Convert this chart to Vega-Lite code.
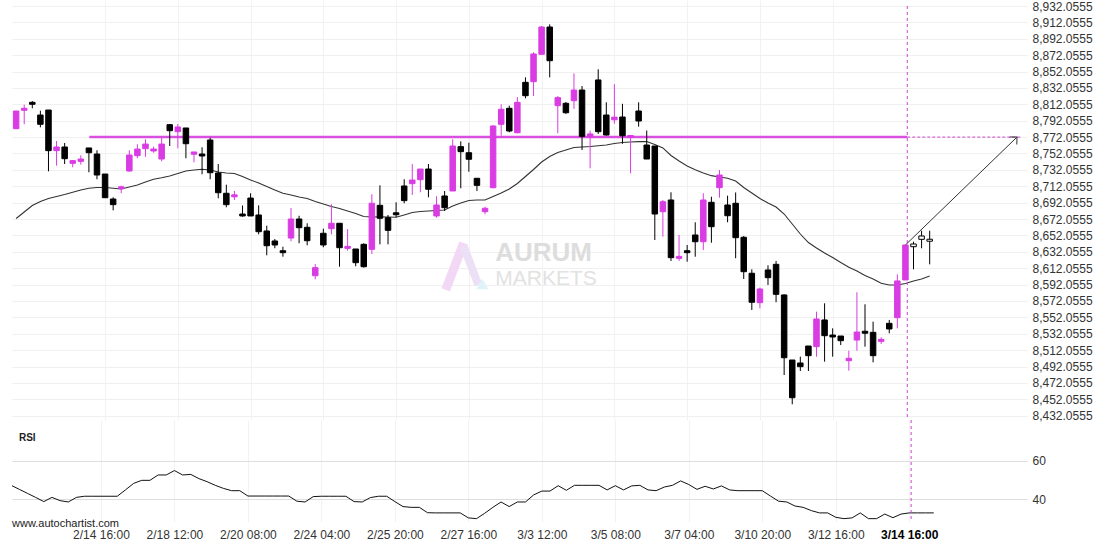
{
  "$schema": "https://vega.github.io/schema/vega-lite/v6.json",
  "padding": {"left": 12, "top": 0, "right": 0, "bottom": 0},
  "spacing": 0,
  "bounds": "flush",
  "background": "white",
  "config": {
    "view": {"stroke": null},
    "axis": {"domain": false, "ticks": false, "labelFont": "Liberation Sans", "labelFontSize": 12, "labelColor": "#333333"}
  },
  "datasets": {
    "candles": [
      {"i":0,"o":8782.3,"h":8803.9,"l":8782.3,"c":8803.9,"dir":"up"},
      {"i":1,"o":8804.8,"h":8811.6,"l":8787.7,"c":8807.2,"dir":"up"},
      {"i":2,"o":8814.5,"h":8816.1,"l":8807.2,"c":8812.1,"dir":"down"},
      {"i":3,"o":8799.0,"h":8804.3,"l":8784.0,"c":8787.7,"dir":"down"},
      {"i":4,"o":8805.1,"h":8805.1,"l":8730.3,"c":8755.5,"dir":"down"},
      {"i":5,"o":8755.5,"h":8767.3,"l":8737.2,"c":8760.0,"dir":"up"},
      {"i":6,"o":8760.0,"h":8764.9,"l":8739.2,"c":8745.7,"dir":"down"},
      {"i":7,"o":8740.1,"h":8744.1,"l":8735.2,"c":8743.3,"dir":"up"},
      {"i":8,"o":8742.5,"h":8749.9,"l":8738.4,"c":8745.3,"dir":"up"},
      {"i":9,"o":8758.8,"h":8758.8,"l":8729.1,"c":8753.0,"dir":"down"},
      {"i":10,"o":8751.4,"h":8756.0,"l":8720.6,"c":8725.8,"dir":"down"},
      {"i":11,"o":8727.0,"h":8727.0,"l":8698.1,"c":8698.1,"dir":"down"},
      {"i":12,"o":8696.5,"h":8698.6,"l":8682.7,"c":8689.6,"dir":"down"},
      {"i":13,"o":8709.0,"h":8712.8,"l":8703.5,"c":8711.4,"dir":"up"},
      {"i":14,"o":8730.7,"h":8756.0,"l":8729.8,"c":8750.2,"dir":"up"},
      {"i":15,"o":8749.4,"h":8763.3,"l":8746.2,"c":8757.5,"dir":"up"},
      {"i":16,"o":8757.9,"h":8769.4,"l":8748.1,"c":8763.6,"dir":"up"},
      {"i":17,"o":8755.1,"h":8760.4,"l":8753.0,"c":8757.5,"dir":"up"},
      {"i":18,"o":8745.3,"h":8772.6,"l":8742.5,"c":8763.6,"dir":"up"},
      {"i":19,"o":8787.2,"h":8788.1,"l":8761.2,"c":8779.9,"dir":"down"},
      {"i":20,"o":8778.7,"h":8788.1,"l":8758.4,"c":8784.4,"dir":"up"},
      {"i":21,"o":8783.2,"h":8783.2,"l":8746.2,"c":8764.0,"dir":"down"},
      {"i":22,"o":8751.1,"h":8753.9,"l":8741.3,"c":8753.9,"dir":"up"},
      {"i":23,"o":8751.4,"h":8759.6,"l":8726.7,"c":8749.0,"dir":"down"},
      {"i":24,"o":8768.5,"h":8771.3,"l":8720.6,"c":8728.6,"dir":"down"},
      {"i":25,"o":8728.3,"h":8739.2,"l":8697.4,"c":8704.2,"dir":"down"},
      {"i":26,"o":8703.5,"h":8714.0,"l":8686.4,"c":8689.6,"dir":"down"},
      {"i":27,"o":8699.2,"h":8706.3,"l":8695.3,"c":8701.6,"dir":"up"},
      {"i":28,"o":8678.2,"h":8688.6,"l":8675.0,"c":8675.8,"dir":"down"},
      {"i":29,"o":8697.7,"h":8703.5,"l":8675.8,"c":8675.8,"dir":"down"},
      {"i":30,"o":8677.0,"h":8688.8,"l":8653.4,"c":8656.6,"dir":"down"},
      {"i":31,"o":8657.5,"h":8663.9,"l":8627.8,"c":8639.5,"dir":"down"},
      {"i":32,"o":8645.3,"h":8647.7,"l":8636.4,"c":8640.4,"dir":"down"},
      {"i":33,"o":8633.4,"h":8638.3,"l":8626.1,"c":8631.0,"dir":"down"},
      {"i":34,"o":8648.9,"h":8685.5,"l":8644.9,"c":8672.1,"dir":"up"},
      {"i":35,"o":8672.1,"h":8676.1,"l":8642.5,"c":8661.5,"dir":"down"},
      {"i":36,"o":8662.0,"h":8666.9,"l":8640.0,"c":8645.6,"dir":"down"},
      {"i":37,"o":8602.9,"h":8617.2,"l":8598.5,"c":8612.7,"dir":"up"},
      {"i":38,"o":8654.7,"h":8660.3,"l":8637.6,"c":8640.4,"dir":"down"},
      {"i":39,"o":8660.3,"h":8690.1,"l":8653.4,"c":8666.9,"dir":"up"},
      {"i":40,"o":8666.9,"h":8666.9,"l":8613.9,"c":8637.1,"dir":"down"},
      {"i":41,"o":8636.3,"h":8659.9,"l":8633.4,"c":8638.7,"dir":"up"},
      {"i":42,"o":8635.5,"h":8635.5,"l":8614.4,"c":8618.8,"dir":"down"},
      {"i":43,"o":8641.2,"h":8642.5,"l":8612.7,"c":8613.9,"dir":"down"},
      {"i":44,"o":8635.1,"h":8702.3,"l":8629.4,"c":8691.3,"dir":"up"},
      {"i":45,"o":8688.8,"h":8713.2,"l":8641.2,"c":8673.0,"dir":"down"},
      {"i":46,"o":8673.7,"h":8677.0,"l":8641.2,"c":8658.3,"dir":"down"},
      {"i":47,"o":8679.7,"h":8692.5,"l":8674.2,"c":8677.3,"dir":"down"},
      {"i":48,"o":8712.4,"h":8720.6,"l":8691.3,"c":8694.5,"dir":"down"},
      {"i":49,"o":8715.2,"h":8739.2,"l":8701.4,"c":8719.7,"dir":"up"},
      {"i":50,"o":8720.1,"h":8733.1,"l":8704.7,"c":8733.1,"dir":"up"},
      {"i":51,"o":8733.1,"h":8739.2,"l":8698.6,"c":8708.4,"dir":"down"},
      {"i":52,"o":8675.8,"h":8699.8,"l":8673.7,"c":8689.2,"dir":"up"},
      {"i":53,"o":8700.2,"h":8706.3,"l":8681.9,"c":8685.9,"dir":"down"},
      {"i":54,"o":8706.3,"h":8769.4,"l":8706.3,"c":8761.2,"dir":"up"},
      {"i":55,"o":8760.4,"h":8766.9,"l":8709.6,"c":8754.3,"dir":"down"},
      {"i":56,"o":8753.0,"h":8765.2,"l":8729.8,"c":8745.0,"dir":"down"},
      {"i":57,"o":8721.8,"h":8721.8,"l":8706.3,"c":8713.2,"dir":"down"},
      {"i":58,"o":8681.0,"h":8687.1,"l":8677.9,"c":8685.2,"dir":"up"},
      {"i":59,"o":8710.3,"h":8786.8,"l":8709.6,"c":8785.6,"dir":"up"},
      {"i":60,"o":8787.7,"h":8812.1,"l":8773.8,"c":8806.0,"dir":"up"},
      {"i":61,"o":8807.2,"h":8810.4,"l":8777.9,"c":8779.5,"dir":"down"},
      {"i":62,"o":8777.4,"h":8821.0,"l":8776.7,"c":8814.5,"dir":"up"},
      {"i":63,"o":8838.9,"h":8845.0,"l":8819.4,"c":8822.6,"dir":"down"},
      {"i":64,"o":8839.7,"h":8875.6,"l":8822.2,"c":8873.5,"dir":"up"},
      {"i":65,"o":8873.1,"h":8907.7,"l":8873.1,"c":8906.4,"dir":"up"},
      {"i":66,"o":8906.4,"h":8909.7,"l":8845.0,"c":8865.3,"dir":"down"},
      {"i":67,"o":8810.4,"h":8822.2,"l":8776.7,"c":8820.2,"dir":"up"},
      {"i":68,"o":8813.3,"h":8814.9,"l":8800.3,"c":8801.8,"dir":"down"},
      {"i":69,"o":8816.5,"h":8849.9,"l":8806.4,"c":8829.5,"dir":"up"},
      {"i":70,"o":8829.5,"h":8834.4,"l":8756.3,"c":8773.0,"dir":"down"},
      {"i":71,"o":8772.6,"h":8779.9,"l":8734.0,"c":8775.9,"dir":"up"},
      {"i":72,"o":8841.8,"h":8854.8,"l":8775.9,"c":8778.7,"dir":"down"},
      {"i":73,"o":8799.0,"h":8814.5,"l":8774.0,"c":8774.6,"dir":"down"},
      {"i":74,"o":8793.2,"h":8836.6,"l":8788.3,"c":8796.4,"dir":"up"},
      {"i":75,"o":8796.6,"h":8812.7,"l":8763.9,"c":8773.7,"dir":"down"},
      {"i":76,"o":8771.6,"h":8774.0,"l":8727.9,"c":8774.0,"dir":"up"},
      {"i":77,"o":8803.9,"h":8814.5,"l":8784.8,"c":8791.7,"dir":"down"},
      {"i":78,"o":8762.4,"h":8780.1,"l":8745.3,"c":8745.3,"dir":"down"},
      {"i":79,"o":8761.2,"h":8761.2,"l":8646.5,"c":8678.2,"dir":"down"},
      {"i":80,"o":8681.0,"h":8695.3,"l":8650.5,"c":8693.2,"dir":"up"},
      {"i":81,"o":8695.3,"h":8704.7,"l":8620.9,"c":8624.9,"dir":"down"},
      {"i":82,"o":8624.1,"h":8652.6,"l":8620.9,"c":8626.5,"dir":"up"},
      {"i":83,"o":8633.4,"h":8640.4,"l":8620.0,"c":8631.0,"dir":"down"},
      {"i":84,"o":8652.6,"h":8668.1,"l":8626.1,"c":8644.4,"dir":"down"},
      {"i":85,"o":8644.4,"h":8703.5,"l":8634.3,"c":8695.3,"dir":"up"},
      {"i":86,"o":8692.5,"h":8699.3,"l":8643.2,"c":8662.7,"dir":"down"},
      {"i":87,"o":8710.3,"h":8731.9,"l":8698.1,"c":8725.8,"dir":"up"},
      {"i":88,"o":8689.2,"h":8700.6,"l":8668.1,"c":8676.1,"dir":"down"},
      {"i":89,"o":8691.3,"h":8704.5,"l":8624.2,"c":8649.3,"dir":"down"},
      {"i":90,"o":8649.8,"h":8651.4,"l":8598.9,"c":8607.8,"dir":"down"},
      {"i":91,"o":8605.9,"h":8610.7,"l":8561.1,"c":8570.5,"dir":"down"},
      {"i":92,"o":8570.0,"h":8588.3,"l":8563.1,"c":8586.7,"dir":"up"},
      {"i":93,"o":8609.9,"h":8615.6,"l":8591.6,"c":8600.5,"dir":"down"},
      {"i":94,"o":8616.8,"h":8620.9,"l":8570.5,"c":8580.2,"dir":"down"},
      {"i":95,"o":8579.4,"h":8580.2,"l":8481.7,"c":8502.8,"dir":"down"},
      {"i":96,"o":8500.0,"h":8500.0,"l":8446.0,"c":8454.0,"dir":"down"},
      {"i":97,"o":8496.4,"h":8504.1,"l":8486.6,"c":8491.9,"dir":"down"},
      {"i":98,"o":8517.1,"h":8517.1,"l":8486.6,"c":8505.3,"dir":"down"},
      {"i":99,"o":8516.3,"h":8559.0,"l":8504.1,"c":8550.1,"dir":"up"},
      {"i":100,"o":8548.9,"h":8569.2,"l":8498.0,"c":8529.7,"dir":"down"},
      {"i":101,"o":8530.5,"h":8538.7,"l":8504.1,"c":8528.1,"dir":"down"},
      {"i":102,"o":8529.3,"h":8529.3,"l":8518.3,"c":8523.6,"dir":"down"},
      {"i":103,"o":8499.2,"h":8511.4,"l":8487.0,"c":8502.1,"dir":"up"},
      {"i":104,"o":8524.4,"h":8582.7,"l":8511.4,"c":8534.2,"dir":"up"},
      {"i":105,"o":8535.1,"h":8568.0,"l":8516.3,"c":8532.7,"dir":"down"},
      {"i":106,"o":8533.8,"h":8546.8,"l":8497.2,"c":8505.3,"dir":"down"},
      {"i":107,"o":8522.8,"h":8527.7,"l":8519.6,"c":8525.2,"dir":"up"},
      {"i":108,"o":8544.8,"h":8548.9,"l":8532.6,"c":8537.9,"dir":"down"},
      {"i":109,"o":8551.7,"h":8604.6,"l":8538.7,"c":8596.5,"dir":"up"},
      {"i":110,"o":8597.7,"h":8640.4,"l":8597.7,"c":8640.4,"dir":"up"},
      {"i":111,"o":8638.3,"h":8644.4,"l":8610.7,"c":8641.6,"dir":"pending"},
      {"i":112,"o":8647.3,"h":8657.8,"l":8636.4,"c":8651.4,"dir":"pending"},
      {"i":113,"o":8645.0,"h":8657.8,"l":8616.8,"c":8647.4,"dir":"pending"}
    ],
    "ma": [
      {"i":0,"v":8672.7},{"i":1,"v":8680.7},{"i":2,"v":8688.6},{"i":3,"v":8693.5},{"i":4,"v":8697.1},
      {"i":5,"v":8699.6},{"i":6,"v":8702.0},{"i":7,"v":8704.7},{"i":8,"v":8707.5},{"i":9,"v":8709.6},
      {"i":10,"v":8710.6},{"i":11,"v":8710.6},{"i":12,"v":8709.6},{"i":13,"v":8708.7},{"i":14,"v":8711.2},
      {"i":15,"v":8713.6},{"i":16,"v":8717.3},{"i":17,"v":8720.6},{"i":18,"v":8722.4},{"i":19,"v":8724.6},
      {"i":20,"v":8727.6},{"i":21,"v":8730.7},{"i":22,"v":8731.9},{"i":23,"v":8732.8},{"i":24,"v":8731.9},
      {"i":25,"v":8729.5},{"i":26,"v":8728.3},{"i":27,"v":8727.6},{"i":28,"v":8724.0},{"i":29,"v":8719.7},
      {"i":30,"v":8716.1},{"i":31,"v":8711.8},{"i":32,"v":8707.5},{"i":33,"v":8703.5},{"i":34,"v":8701.4},
      {"i":35,"v":8699.0},{"i":36,"v":8697.1},{"i":37,"v":8693.5},{"i":38,"v":8690.4},{"i":39,"v":8687.4},
      {"i":40,"v":8684.9},{"i":41,"v":8681.9},{"i":42,"v":8678.8},{"i":43,"v":8675.2},{"i":44,"v":8674.6},
      {"i":45,"v":8674.9},{"i":46,"v":8674.6},{"i":47,"v":8674.2},{"i":48,"v":8677.0},{"i":49,"v":8680.0},
      {"i":50,"v":8681.3},{"i":51,"v":8681.9},{"i":52,"v":8682.5},{"i":53,"v":8683.1},{"i":54,"v":8688.0},
      {"i":55,"v":8691.6},{"i":56,"v":8694.7},{"i":57,"v":8695.3},{"i":58,"v":8695.3},{"i":59,"v":8699.6},
      {"i":60,"v":8703.8},{"i":61,"v":8708.7},{"i":62,"v":8715.4},{"i":63,"v":8724.0},{"i":64,"v":8732.5},
      {"i":65,"v":8741.7},{"i":66,"v":8748.4},{"i":67,"v":8753.3},{"i":68,"v":8756.3},{"i":69,"v":8759.4},
      {"i":70,"v":8760.0},{"i":71,"v":8760.6},{"i":72,"v":8761.5},{"i":73,"v":8762.4},{"i":74,"v":8764.3},
      {"i":75,"v":8765.5},{"i":76,"v":8766.1},{"i":77,"v":8766.5},{"i":78,"v":8766.7},{"i":79,"v":8763.0},
      {"i":80,"v":8758.8},{"i":81,"v":8749.6},{"i":82,"v":8742.9},{"i":83,"v":8736.8},{"i":84,"v":8732.3},
      {"i":85,"v":8728.3},{"i":86,"v":8725.0},{"i":87,"v":8723.4},{"i":88,"v":8721.8},{"i":89,"v":8718.5},
      {"i":90,"v":8710.6},{"i":91,"v":8703.8},{"i":92,"v":8697.1},{"i":93,"v":8691.6},{"i":94,"v":8686.8},
      {"i":95,"v":8678.2},{"i":96,"v":8666.0},{"i":97,"v":8653.8},{"i":98,"v":8643.4},{"i":99,"v":8636.7},
      {"i":100,"v":8630.6},{"i":101,"v":8625.1},{"i":102,"v":8619.0},{"i":103,"v":8613.2},{"i":104,"v":8608.7},
      {"i":105,"v":8603.2},{"i":106,"v":8598.9},{"i":107,"v":8593.6},{"i":108,"v":8591.6},{"i":109,"v":8591.6},
      {"i":110,"v":8593.4},{"i":111,"v":8596.5},{"i":112,"v":8598.9},{"i":113,"v":8602.6}
    ],
    "rsi": [
      {"i":0,"v":47.3},{"i":1,"v":45.2},{"i":2,"v":43.1},{"i":3,"v":41.0},{"i":4,"v":38.8},
      {"i":5,"v":41.0},{"i":6,"v":39.3},{"i":7,"v":38.6},{"i":8,"v":41.0},{"i":9,"v":41.6},
      {"i":10,"v":41.6},{"i":11,"v":41.6},{"i":12,"v":41.6},{"i":13,"v":41.6},{"i":14,"v":44.9},
      {"i":15,"v":48.3},{"i":16,"v":49.9},{"i":17,"v":49.9},{"i":18,"v":52.7},{"i":19,"v":52.7},
      {"i":20,"v":55.0},{"i":21,"v":52.7},{"i":22,"v":53.0},{"i":23,"v":50.8},{"i":24,"v":49.2},
      {"i":25,"v":47.3},{"i":26,"v":45.7},{"i":27,"v":44.5},{"i":28,"v":44.5},{"i":29,"v":41.7},
      {"i":30,"v":41.7},{"i":31,"v":41.7},{"i":32,"v":41.7},{"i":33,"v":41.7},{"i":34,"v":41.7},
      {"i":35,"v":39.0},{"i":36,"v":38.6},{"i":37,"v":41.4},{"i":38,"v":41.6},{"i":39,"v":41.6},
      {"i":40,"v":41.6},{"i":41,"v":41.6},{"i":42,"v":38.8},{"i":43,"v":38.6},{"i":44,"v":40.9},
      {"i":45,"v":41.6},{"i":46,"v":41.6},{"i":47,"v":38.8},{"i":48,"v":36.2},{"i":49,"v":35.8},
      {"i":50,"v":35.8},{"i":51,"v":33.0},{"i":52,"v":32.9},{"i":53,"v":32.9},{"i":54,"v":32.9},
      {"i":55,"v":32.9},{"i":56,"v":30.3},{"i":57,"v":29.9},{"i":58,"v":32.7},{"i":59,"v":35.8},
      {"i":60,"v":38.6},{"i":61,"v":36.2},{"i":62,"v":38.6},{"i":63,"v":38.6},{"i":64,"v":42.3},
      {"i":65,"v":44.3},{"i":66,"v":44.3},{"i":67,"v":47.1},{"i":68,"v":44.7},{"i":69,"v":47.3},
      {"i":70,"v":47.3},{"i":71,"v":47.3},{"i":72,"v":47.3},{"i":73,"v":44.9},{"i":74,"v":47.1},
      {"i":75,"v":44.9},{"i":76,"v":47.0},{"i":77,"v":47.3},{"i":78,"v":44.9},{"i":79,"v":44.5},
      {"i":80,"v":46.4},{"i":81,"v":47.3},{"i":82,"v":49.6},{"i":83,"v":47.7},{"i":84,"v":45.2},
      {"i":85,"v":46.8},{"i":86,"v":45.4},{"i":87,"v":47.0},{"i":88,"v":44.9},{"i":89,"v":44.5},
      {"i":90,"v":44.5},{"i":91,"v":44.5},{"i":92,"v":44.5},{"i":93,"v":41.7},{"i":94,"v":39.0},
      {"i":95,"v":38.6},{"i":96,"v":36.5},{"i":97,"v":35.8},{"i":98,"v":34.1},{"i":99,"v":32.9},
      {"i":100,"v":32.9},{"i":101,"v":30.6},{"i":102,"v":29.9},{"i":103,"v":30.3},{"i":104,"v":32.9},
      {"i":105,"v":29.9},{"i":106,"v":29.9},{"i":107,"v":32.3},{"i":108,"v":30.4},{"i":109,"v":32.3},
      {"i":110,"v":32.9},{"i":111,"v":32.9},{"i":112,"v":32.9},{"i":113,"v":32.9}
    ],
    "level": [{"i":9.05,"i_end":110.23,"i_proj":124.42,"p":8772.0555}],
    "arrow": [{"i":110,"p":8640.4},{"i":123.8,"p":8772.06}],
    "now": [{"i":110.23,"top":8932.06,"bottom":8426.81}],
    "logo_a": [{"i":53.14,"p":8585.5},{"i":55.34,"p":8642.8}],
    "logo_b": [{"i":55.34,"p":8639.2},{"i":57.18,"p":8591.6}],
    "logo_tri": [{"i":57.67,"p":8592.8}],
    "brand": [{"t":"AURUM","i":59.26,"p":8620.9}],
    "brand2": [{"t":"MARKETS","i":59.26,"p":8591.6}],
    "rsilabel": [{"t":"RSI","i":0.96,"v":72.2}],
    "credit": [{"t":"www.autochartist.com","i":0.11,"v":25.5}]
  },
  "vconcat": [
    {
      "width": 1015,
      "height": 420,
      "layer": [
        {
          "data": {"name": "ma"},
          "mark": {"type": "line", "color": "#333333", "strokeWidth": 1.1, "clip": true},
          "encoding": {
            "x": {"field": "i", "type": "quantitative", "scale": {"domain": [0.107, 124.42], "nice": false, "zero": false},
                  "axis": {"values": [11, 20, 29, 38, 47, 56, 65, 74, 83, 92, 101], "tickCount": 40, "labels": false, "grid": true, "gridColor": "#f2f2f2", "title": null}},
            "y": {"field": "v", "type": "quantitative", "scale": {"domain": [8426.81, 8939.38], "nice": false, "zero": false},
                  "axis": {"orient": "right", "values": [8432.0555, 8452.0555, 8472.0555, 8492.0555, 8512.0555, 8532.0555, 8552.0555, 8572.0555, 8592.0555, 8612.0555, 8632.0555, 8652.0555, 8672.0555, 8692.0555, 8712.0555, 8732.0555, 8752.0555, 8772.0555, 8792.0555, 8812.0555, 8832.0555, 8852.0555, 8872.0555, 8892.0555, 8912.0555, 8932.0555],
                           "tickCount": 40, "format": ",.4f", "grid": true, "gridColor": "#f0f0f0", "labelPadding": 5, "labelOverlap": false, "title": null}}
          }
        },
        {
          "data": {"name": "logo_a"},
          "mark": {"type": "line", "strokeWidth": 9, "strokeCap": "butt", "color": "#f3d8f5", "clip": true},
          "encoding": {
            "x": {"field": "i", "type": "quantitative", "scale": {"domain": [0.107, 124.42], "nice": false, "zero": false}},
            "y": {"field": "p", "type": "quantitative", "scale": {"domain": [8426.81, 8939.38], "nice": false, "zero": false}}
          }
        },
        {
          "data": {"name": "logo_b"},
          "mark": {"type": "line", "strokeWidth": 8, "strokeCap": "butt", "color": "#ebe0f6", "clip": true},
          "encoding": {
            "x": {"field": "i", "type": "quantitative", "scale": {"domain": [0.107, 124.42], "nice": false, "zero": false}},
            "y": {"field": "p", "type": "quantitative", "scale": {"domain": [8426.81, 8939.38], "nice": false, "zero": false}}
          }
        },
        {
          "data": {"name": "logo_tri"},
          "mark": {"type": "point", "shape": "triangle-up", "filled": true, "size": 150, "color": "#dff3f8", "opacity": 1},
          "encoding": {
            "x": {"field": "i", "type": "quantitative", "scale": {"domain": [0.107, 124.42], "nice": false, "zero": false}},
            "y": {"field": "p", "type": "quantitative", "scale": {"domain": [8426.81, 8939.38], "nice": false, "zero": false}}
          }
        },
        {
          "data": {"name": "brand"},
          "mark": {"type": "text", "align": "left", "baseline": "alphabetic", "font": "Liberation Sans", "fontSize": 26, "fontWeight": "bold", "color": "#dddddd"},
          "encoding": {
            "x": {"field": "i", "type": "quantitative", "scale": {"domain": [0.107, 124.42], "nice": false, "zero": false}},
            "y": {"field": "p", "type": "quantitative", "scale": {"domain": [8426.81, 8939.38], "nice": false, "zero": false}},
            "text": {"field": "t"}
          }
        },
        {
          "data": {"name": "brand2"},
          "mark": {"type": "text", "align": "left", "baseline": "alphabetic", "font": "Liberation Sans", "fontSize": 21, "fontWeight": "normal", "color": "#e2e2e2"},
          "encoding": {
            "x": {"field": "i", "type": "quantitative", "scale": {"domain": [0.107, 124.42], "nice": false, "zero": false}},
            "y": {"field": "p", "type": "quantitative", "scale": {"domain": [8426.81, 8939.38], "nice": false, "zero": false}},
            "text": {"field": "t"}
          }
        },
        {
          "data": {"name": "level"},
          "mark": {"type": "rule", "color": "#d94fe0", "strokeWidth": 2.5, "clip": true},
          "encoding": {
            "x": {"field": "i", "type": "quantitative", "scale": {"domain": [0.107, 124.42], "nice": false, "zero": false}},
            "x2": {"field": "i_end"},
            "y": {"field": "p", "type": "quantitative", "scale": {"domain": [8426.81, 8939.38], "nice": false, "zero": false}}
          }
        },
        {
          "data": {"name": "level"},
          "mark": {"type": "rule", "color": "#cc44cc", "strokeWidth": 1, "strokeDash": [3, 2], "clip": true},
          "encoding": {
            "x": {"field": "i_end", "type": "quantitative", "scale": {"domain": [0.107, 124.42], "nice": false, "zero": false}},
            "x2": {"field": "i_proj"},
            "y": {"field": "p", "type": "quantitative", "scale": {"domain": [8426.81, 8939.38], "nice": false, "zero": false}}
          }
        },
        {
          "data": {"name": "now"},
          "mark": {"type": "rule", "color": "#cc44cc", "strokeWidth": 1, "strokeDash": [3, 3]},
          "encoding": {
            "x": {"field": "i", "type": "quantitative", "scale": {"domain": [0.107, 124.42], "nice": false, "zero": false}},
            "y": {"field": "top", "type": "quantitative", "scale": {"domain": [8426.81, 8939.38], "nice": false, "zero": false}},
            "y2": {"field": "bottom"}
          }
        },
        {
          "data": {"name": "candles"},
          "mark": {"type": "rule", "strokeWidth": 1, "clip": true},
          "encoding": {
            "x": {"field": "i", "type": "quantitative", "scale": {"domain": [0.107, 124.42], "nice": false, "zero": false}},
            "y": {"field": "l", "type": "quantitative", "scale": {"domain": [8426.81, 8939.38], "nice": false, "zero": false}},
            "y2": {"field": "h"},
            "color": {"field": "dir", "type": "nominal", "scale": {"domain": ["up", "down", "pending"], "range": ["#d93ce3", "#000000", "#000000"]}, "legend": null}
          }
        },
        {
          "data": {"name": "candles"},
          "mark": {"type": "bar", "width": 5.5, "strokeWidth": 1, "clip": true},
          "encoding": {
            "x": {"field": "i", "type": "quantitative", "scale": {"domain": [0.107, 124.42], "nice": false, "zero": false}},
            "y": {"field": "o", "type": "quantitative", "scale": {"domain": [8426.81, 8939.38], "nice": false, "zero": false}},
            "y2": {"field": "c"},
            "fill": {"field": "dir", "type": "nominal", "scale": {"domain": ["up", "down", "pending"], "range": ["#d93ce3", "#000000", "#ffffff"]}, "legend": null},
            "stroke": {"field": "dir", "type": "nominal", "scale": {"domain": ["up", "down", "pending"], "range": ["#d93ce3", "#000000", "#000000"]}, "legend": null}
          }
        },
        {
          "data": {"name": "arrow"},
          "mark": {"type": "line", "color": "#333333", "strokeWidth": 1},
          "encoding": {
            "x": {"field": "i", "type": "quantitative", "scale": {"domain": [0.107, 124.42], "nice": false, "zero": false}},
            "y": {"field": "p", "type": "quantitative", "scale": {"domain": [8426.81, 8939.38], "nice": false, "zero": false}}
          }
        },
        {
          "data": {"name": "arrow"},
          "transform": [{"filter": "datum.i > 120"}],
          "mark": {"type": "point", "shape": "M-1,-1L0,0L-1,1", "filled": false, "size": 110, "angle": 316.3, "stroke": "#333333", "strokeWidth": 1, "opacity": 1},
          "encoding": {
            "x": {"field": "i", "type": "quantitative", "scale": {"domain": [0.107, 124.42], "nice": false, "zero": false}},
            "y": {"field": "p", "type": "quantitative", "scale": {"domain": [8426.81, 8939.38], "nice": false, "zero": false}}
          }
        }
      ]
    },
    {
      "width": 1015,
      "height": 102,
      "layer": [
        {
          "data": {"name": "rsi"},
          "mark": {"type": "line", "color": "#111111", "strokeWidth": 1, "clip": true},
          "encoding": {
            "x": {"field": "i", "type": "quantitative", "scale": {"domain": [0.107, 124.42], "nice": false, "zero": false},
                  "axis": {"orient": "bottom", "values": [11, 20, 29, 38, 47, 56, 65, 74, 83, 92, 101, 110], "tickCount": 40,
                           "labelExpr": "['2/14 16:00','2/18 12:00','2/20 08:00','2/24 04:00','2/25 20:00','2/27 16:00','3/3 12:00','3/5 08:00','3/7 04:00','3/10 20:00','3/12 16:00','3/14 16:00'][round((datum.value - 11) / 9)]",
                           "labelFontWeight": {"condition": {"test": "datum.value == 110", "value": "bold"}, "value": "normal"},
                           "labelColor": {"condition": {"test": "datum.value == 110", "value": "#000000"}, "value": "#333333"},
                           "labelPadding": 7, "labelFlush": false, "labelOverlap": false, "grid": true, "gridColor": "#f2f2f2", "title": null}},
            "y": {"field": "v", "type": "quantitative", "scale": {"domain": [28.15, 81.4], "nice": false, "zero": false},
                  "axis": {"orient": "right", "values": [40, 60], "grid": true, "gridColor": "#dddddd", "labelPadding": 5, "title": null}}
          }
        },
        {
          "data": {"name": "now"},
          "mark": {"type": "rule", "color": "#cc44cc", "strokeWidth": 1, "strokeDash": [3, 3]},
          "encoding": {
            "x": {"field": "i", "type": "quantitative", "scale": {"domain": [0.107, 124.42], "nice": false, "zero": false}}
          }
        },
        {
          "data": {"name": "rsilabel"},
          "mark": {"type": "text", "align": "left", "baseline": "middle", "font": "Liberation Sans", "fontSize": 10, "fontWeight": "bold", "color": "#222222"},
          "encoding": {
            "x": {"field": "i", "type": "quantitative", "scale": {"domain": [0.107, 124.42], "nice": false, "zero": false}},
            "y": {"field": "v", "type": "quantitative", "scale": {"domain": [28.15, 81.4], "nice": false, "zero": false}},
            "text": {"field": "t"}
          }
        },
        {
          "data": {"name": "credit"},
          "mark": {"type": "text", "align": "left", "baseline": "alphabetic", "font": "Liberation Sans", "fontSize": 11, "color": "#222222"},
          "encoding": {
            "x": {"field": "i", "type": "quantitative", "scale": {"domain": [0.107, 124.42], "nice": false, "zero": false}},
            "y": {"field": "v", "type": "quantitative", "scale": {"domain": [28.15, 81.4], "nice": false, "zero": false}},
            "text": {"field": "t"}
          }
        }
      ]
    }
  ]
}
